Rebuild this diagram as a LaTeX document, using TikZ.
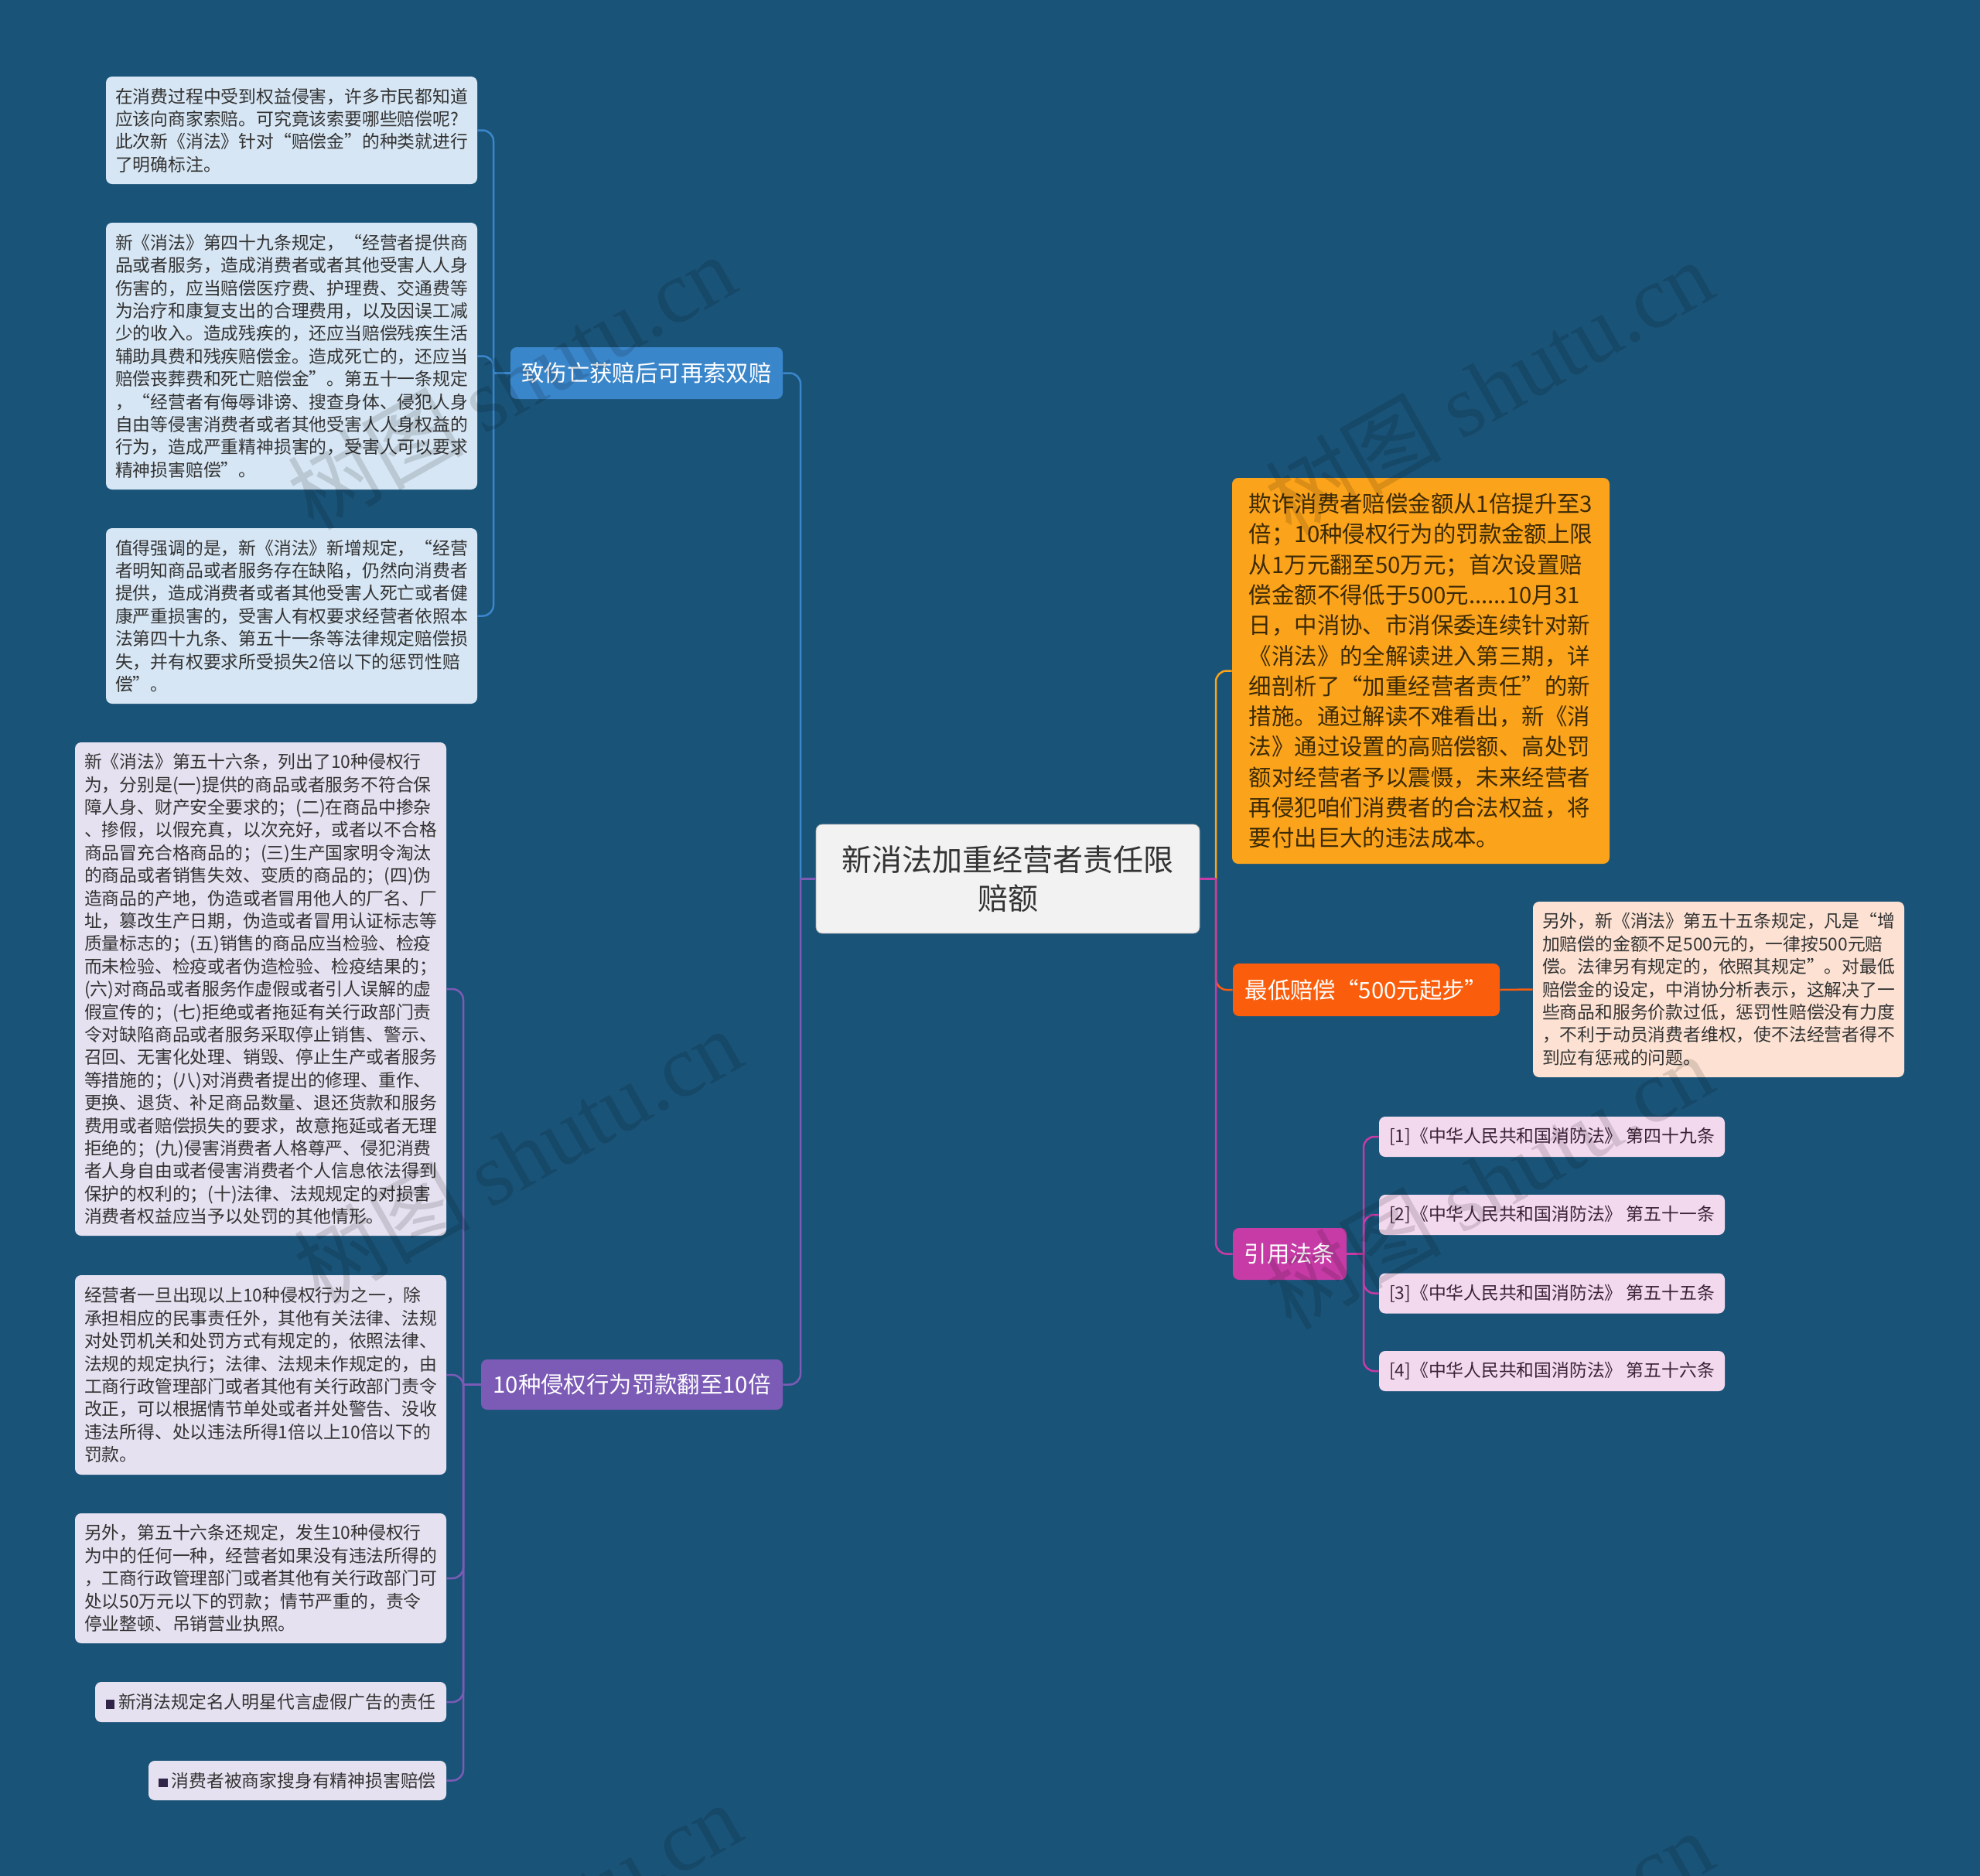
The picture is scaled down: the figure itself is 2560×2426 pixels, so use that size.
\documentclass[tikz,border=0pt]{standalone}
\usepackage{fontspec}
\setmainfont{Noto Sans CJK SC}
\newfontfamily\wmserif{Liberation Serif}
\usepackage{xcolor}
\usepackage{tikz}
\usetikzlibrary{positioning}
\definecolor{mBg}{HTML}{1A5378}
\definecolor{mRoot}{HTML}{F2F2F2}
\definecolor{mDark}{HTML}{333333}
\definecolor{mBlue}{HTML}{3A86CB}
\definecolor{mBlueLeaf}{HTML}{D6E6F4}
\definecolor{mPurple}{HTML}{7B5BB6}
\definecolor{mPurpleLeaf}{HTML}{E6E1F0}
\definecolor{mAmber}{HTML}{FBA31B}
\definecolor{mAmberText}{HTML}{3B2A05}
\definecolor{mRed}{HTML}{FA5E0C}
\definecolor{mPeach}{HTML}{FDE2D3}
\definecolor{mMagenta}{HTML}{C73BA7}
\definecolor{mPink}{HTML}{F3D9EE}
\definecolor{mPinkText}{HTML}{3C2236}

\begin{document}
\begin{tikzpicture}[x=0.5pt, y=-0.5pt,
  box/.style={rounded corners=4pt, inner sep=0pt, align=left},
  root/.style={box, fill=mRoot, draw=mRoot!70!black, line width=0.4pt, minimum width=248pt, minimum height=70.5pt, align=center, text=mDark, font=\fontsize{19.5}{25.3}\selectfont},
  topic/.style={box, align=center, text=white, font=\fontsize{14.7}{18}\selectfont},
  leaf/.style={box, text=mDark, font=\fontsize{11.4}{14.7}\selectfont},
  link/.style={line width=1.25pt, rounded corners=7pt},
  wmark/.style={text=black, opacity=0.13, font=\fontsize{57}{57}\selectfont, rotate=29.5}]
% background
\useasboundingbox (0,0) rectangle (2560,2426);
\clip (0,0) rectangle (2560,2426);
\fill[mBg] (0,0) rectangle (2560,2426);
% root
\node[root] (root) at (1303,1136.5) {新消法加重经营者责任限\\赔额};
% left topics
\node[topic, fill=mBlue, minimum width=176pt, minimum height=33.5pt] (hurt) at (836,482.5) {致伤亡获赔后可再索双赔};
\node[topic, fill=mPurple, minimum width=195pt, minimum height=32.5pt] (fine) at (817,1790.5) {10种侵权行为罚款翻至10倍};
% right topics
\node[topic, fill=mAmber, text=mAmberText, align=left, font=\fontsize{14.7}{19.65}\selectfont, minimum width=244pt, minimum height=249.5pt] (triple) at (1837,867.5) {欺诈消费者赔偿金额从1倍提升至3\\倍；10种侵权行为的罚款金额上限\\从1万元翻至50万元；首次设置赔\\偿金额不得低于500元......10月31\\日，中消协、市消保委连续针对新\\《消法》的全解读进入第三期，详\\细剖析了“加重经营者责任”的新\\措施。通过解读不难看出，新《消\\法》通过设置的高赔偿额、高处罚\\额对经营者予以震慑，未来经营者\\再侵犯咱们消费者的合法权益，将\\要付出巨大的违法成本。};
\node[topic, fill=mRed, minimum width=172.5pt, minimum height=34pt] (floor) at (1766.5,1280) {最低赔偿“500元起步”};
\node[topic, fill=mMagenta, minimum width=73.5pt, minimum height=33.5pt] (refs) at (1667.5,1621.5) {引用法条};
% leaves of hurt
\node[leaf, fill=mBlueLeaf, minimum width=240pt, minimum height=69.5pt] (hurtA) at (377,168.5) {在消费过程中受到权益侵害，许多市民都知道\\应该向商家索赔。可究竟该索要哪些赔偿呢?\\此次新《消法》针对“赔偿金”的种类就进行\\了明确标注。};
\node[leaf, fill=mBlueLeaf, minimum width=240pt, minimum height=172.5pt] (hurtB) at (377,460.5) {新《消法》第四十九条规定，“经营者提供商\\品或者服务，造成消费者或者其他受害人人身\\伤害的，应当赔偿医疗费、护理费、交通费等\\为治疗和康复支出的合理费用，以及因误工减\\少的收入。造成残疾的，还应当赔偿残疾生活\\辅助具费和残疾赔偿金。造成死亡的，还应当\\赔偿丧葬费和死亡赔偿金”。第五十一条规定\\，“经营者有侮辱诽谤、搜查身体、侵犯人身\\自由等侵害消费者或者其他受害人人身权益的\\行为，造成严重精神损害的，受害人可以要求\\精神损害赔偿”。};
\node[leaf, fill=mBlueLeaf, minimum width=240pt, minimum height=113.5pt] (hurtC) at (377,796.5) {值得强调的是，新《消法》新增规定，“经营\\者明知商品或者服务存在缺陷，仍然向消费者\\提供，造成消费者或者其他受害人死亡或者健\\康严重损害的，受害人有权要求经营者依照本\\法第四十九条、第五十一条等法律规定赔偿损\\失，并有权要求所受损失2倍以下的惩罚性赔\\偿”。};
% leaves of fine
\node[leaf, fill=mPurpleLeaf, minimum width=240pt, minimum height=319pt] (fineA) at (337,1279) {新《消法》第五十六条，列出了10种侵权行\\为，分别是(一)提供的商品或者服务不符合保\\障人身、财产安全要求的；(二)在商品中掺杂\\、掺假，以假充真，以次充好，或者以不合格\\商品冒充合格商品的；(三)生产国家明令淘汰\\的商品或者销售失效、变质的商品的；(四)伪\\造商品的产地，伪造或者冒用他人的厂名、厂\\址，篡改生产日期，伪造或者冒用认证标志等\\质量标志的；(五)销售的商品应当检验、检疫\\而未检验、检疫或者伪造检验、检疫结果的；\\(六)对商品或者服务作虚假或者引人误解的虚\\假宣传的；(七)拒绝或者拖延有关行政部门责\\令对缺陷商品或者服务采取停止销售、警示、\\召回、无害化处理、销毁、停止生产或者服务\\等措施的；(八)对消费者提出的修理、重作、\\更换、退货、补足商品数量、退还货款和服务\\费用或者赔偿损失的要求，故意拖延或者无理\\拒绝的；(九)侵害消费者人格尊严、侵犯消费\\者人身自由或者侵害消费者个人信息依法得到\\保护的权利的；(十)法律、法规规定的对损害\\消费者权益应当予以处罚的其他情形。};
\node[leaf, fill=mPurpleLeaf, minimum width=240pt, minimum height=129pt] (fineB) at (337,1778) {经营者一旦出现以上10种侵权行为之一，除\\承担相应的民事责任外，其他有关法律、法规\\对处罚机关和处罚方式有规定的，依照法律、\\法规的规定执行；法律、法规未作规定的，由\\工商行政管理部门或者其他有关行政部门责令\\改正，可以根据情节单处或者并处警告、没收\\违法所得、处以违法所得1倍以上10倍以下的\\罚款。};
\node[leaf, fill=mPurpleLeaf, minimum width=240pt, minimum height=84pt] (fineC) at (337,2041) {另外，第五十六条还规定，发生10种侵权行\\为中的任何一种，经营者如果没有违法所得的\\，工商行政管理部门或者其他有关行政部门可\\处以50万元以下的罚款；情节严重的，责令\\停业整顿、吊销营业执照。};
\node[leaf, fill=mPurpleLeaf, minimum width=227pt, minimum height=26pt] (fineD) at (350,2201) {{\color{mPurple!40!black}\rule{0.5em}{0.5em}} 新消法规定名人明星代言虚假广告的责任};
\node[leaf, fill=mPurpleLeaf, minimum width=192.5pt, minimum height=25.5pt] (fineE) at (384.5,2302.5) {{\color{mPurple!40!black}\rule{0.5em}{0.5em}} 消费者被商家搜身有精神损害赔偿};
% leaf of floor
\node[leaf, fill=mPeach, minimum width=240pt, minimum height=113.5pt] (floorA) at (2222,1279.5) {另外，新《消法》第五十五条规定，凡是“增\\加赔偿的金额不足500元的，一律按500元赔\\偿。法律另有规定的，依照其规定”。对最低\\赔偿金的设定，中消协分析表示，这解决了一\\些商品和服务价款过低，惩罚性赔偿没有力度\\，不利于动员消费者维权，使不法经营者得不\\到应有惩戒的问题。};
% leaves of refs
\node[leaf, fill=mPink, text=mPinkText, minimum width=223.5pt, minimum height=26pt] (ref1) at (2006.5,1470) {[1]《中华人民共和国消防法》 第四十九条};
\node[leaf, fill=mPink, text=mPinkText, minimum width=223.5pt, minimum height=26pt] (ref2) at (2006.5,1571) {[2]《中华人民共和国消防法》 第五十一条};
\node[leaf, fill=mPink, text=mPinkText, minimum width=223.5pt, minimum height=26pt] (ref3) at (2006.5,1672.5) {[3]《中华人民共和国消防法》 第五十五条};
\node[leaf, fill=mPink, text=mPinkText, minimum width=223.5pt, minimum height=26pt] (ref4) at (2006.5,1773) {[4]《中华人民共和国消防法》 第五十六条};
% junctions
\coordinate (jl) at (1035,1136.5);
\coordinate (jr) at (1572,1136.5);
\coordinate (jhurt) at (638,482.5);
\coordinate (jfine) at (599,1790.5);
\coordinate (jrefs) at (1763,1621.5);
% root links
\draw[link, mBlue] (jl) |- (hurt.east);
\draw[link, mPurple] (jl) |- (fine.east);
\draw[link, mPurple] (root.west) -- (jl);
\draw[link, mAmber] (jr) |- (triple.west);
\draw[link, mRed] (jr) |- (floor.west);
\draw[link, mMagenta] (jr) |- (refs.west);
\draw[link, mMagenta] (root.east) -- (jr);
% topic links
\draw[link, mBlue] (hurt.west) -- (jhurt);
\draw[link, mBlue] (jhurt) |- (hurtA.east);
\draw[link, mBlue] (jhurt) |- (hurtB.east);
\draw[link, mBlue] (jhurt) |- (hurtC.east);
\draw[link, mPurple] (fine.west) -- (jfine);
\draw[link, mPurple] (jfine) |- (fineA.east);
\draw[link, mPurple] (jfine) |- (fineB.east);
\draw[link, mPurple] (jfine) |- (fineC.east);
\draw[link, mPurple] (jfine) |- (fineD.east);
\draw[link, mPurple] (jfine) |- (fineE.east);
\draw[link, mRed] (floor.east) -- (floorA.west);
\draw[link, mMagenta] (refs.east) -- (jrefs);
\draw[link, mMagenta] (jrefs) |- (ref1.west);
\draw[link, mMagenta] (jrefs) |- (ref2.west);
\draw[link, mMagenta] (jrefs) |- (ref3.west);
\draw[link, mMagenta] (jrefs) |- (ref4.west);
% watermarks
\foreach \wx/\wy [count=\i] in {661/493, 1925/500, 669/1494, 1925/1527, 669/2495, 1925/2531}
  \node[wmark] (wm\i) at (\wx,\wy) {树图 {\wmserif shutu.cn}};
\end{tikzpicture}
\end{document}
